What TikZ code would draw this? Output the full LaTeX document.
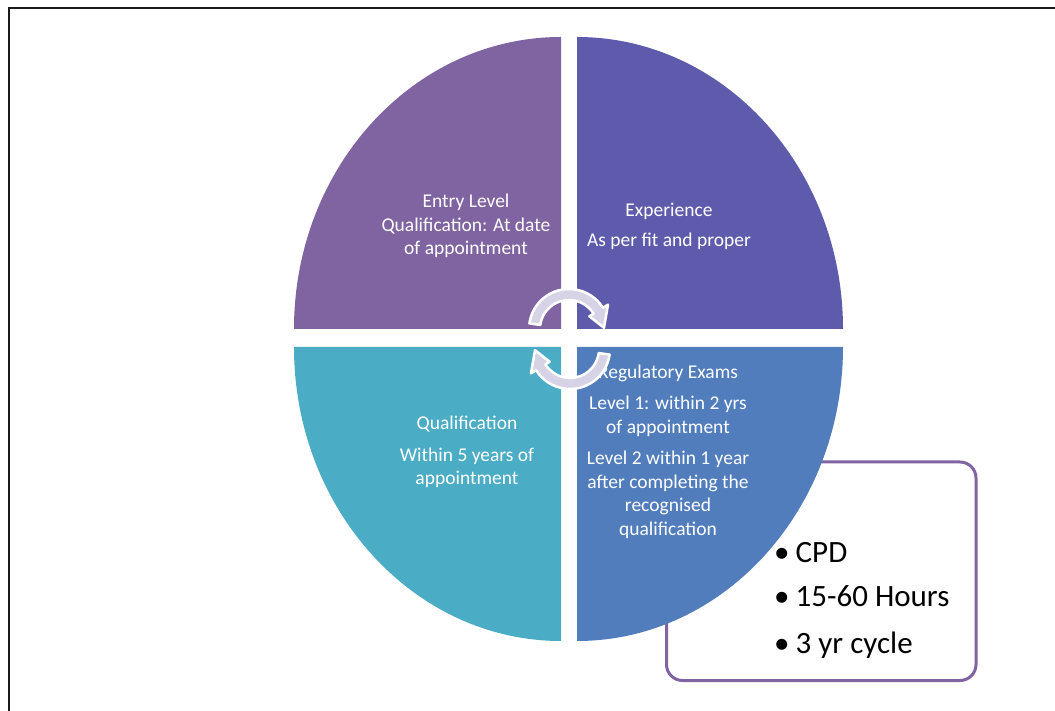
\documentclass[tikz,border=0pt]{standalone}
\usepackage{fontspec}
\setmainfont{Carlito}
\definecolor{framecol}{HTML}{1A1A1A}
\definecolor{qtl}{HTML}{8064A2}
\definecolor{qtr}{HTML}{5F5BAC}
\definecolor{qbl}{HTML}{4BACC6}
\definecolor{qbr}{HTML}{517DBD}
\definecolor{boxcol}{HTML}{8064A2}
\definecolor{arrowfill}{HTML}{D6D3E6}
\begin{document}
\begin{tikzpicture}[x=1pt,y=1pt,
  qtext/.style={text=white, font=\fontsize{19.5}{23.5}\selectfont, align=center, inner sep=0pt, anchor=base},
  cpdtext/.style={font=\fontsize{31}{45}\selectfont, anchor=base west, inner sep=0pt},
  cyclearrow/.style={fill=arrowfill, draw=white, line width=2.5pt, line join=round}]
\useasboundingbox (0,0) rectangle (1055,710);
% outer frame (only left and top edges are visible)
\draw[line width=2pt, framecol] (9,-10) -- (9,702) -- (1070,702);
% CPD box
\node[draw=boxcol, line width=3pt, rounded corners=16pt, fill=white,
      minimum width=309.5pt, minimum height=218.5pt, anchor=south west, inner sep=0pt]
      (cpdbox) at (665,28) {};
% quadrants
\fill[qtl] (561,381) -- (294,381) arc[start angle=180, end angle=90, x radius=267, y radius=292] -- cycle;
\fill[qtr] (577,381) -- (577,673) arc[start angle=90, end angle=0, x radius=266, y radius=292] -- cycle;
\fill[qbl] (561,363) -- (294,363) arc[start angle=180, end angle=270, x radius=267, y radius=294] -- cycle;
\fill[qbr] (577,363) -- (843,363) arc[start angle=0, end angle=-90, x radius=266, y radius=294] -- cycle;
% quadrant texts (anchor base = baseline of last line)
\node[qtext] (entry) at (466,455) {Entry Level\\Qualification: At date\\of appointment};
\node[qtext] (exper) at (669,463) {Experience\\[6.5pt]As per fit and proper};
\node[qtext] (qual) at (467,225) {Qualification\\[8pt]Within 5 years of\\appointment};
\node[qtext] (regex) at (668,175) {Regulatory Exams\\[7.5pt]Level 1: within 2 yrs\\of appointment\\[8pt]Level 2 within 1 year\\after completing the\\recognised\\qualification};
% cycle arrows
\begin{scope}[shift={(569,381)}]
  \path[cyclearrow] (172:40) arc[start angle=172, end angle=32, radius=40] -- (32:46) -- (2:35) -- (32:24) -- (32:29) arc[start angle=32, end angle=172, radius=29] -- cycle;
\end{scope}
\begin{scope}[shift={(570,361)}, rotate=180]
  \path[cyclearrow] (172:40) arc[start angle=172, end angle=32, radius=40] -- (32:46) -- (2:35) -- (32:24) -- (32:29) arc[start angle=32, end angle=172, radius=29] -- cycle;
\end{scope}
% CPD list
\node[cpdtext] (b1) at (774,147) {•};
\node[cpdtext] (b2) at (774,103) {•};
\node[cpdtext] (b3) at (774,57) {•};
\node[cpdtext] (t1) at (795.5,147) {CPD};
\node[cpdtext] (t2) at (795.5,103) {15-60 Hours};
\node[cpdtext] (t3) at (795.5,57) {3 yr cycle};
\end{tikzpicture}
\end{document}
